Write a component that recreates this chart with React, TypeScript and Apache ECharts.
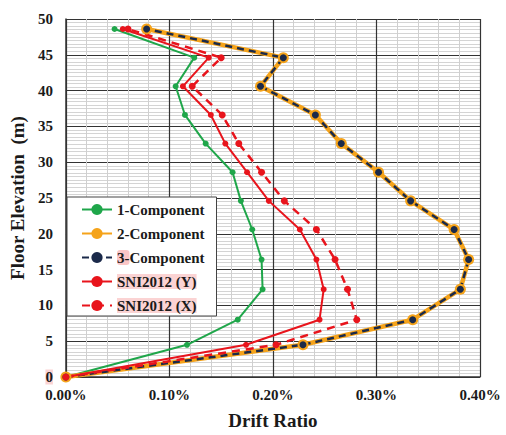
import React, { useEffect, useRef } from "react";
import * as echarts from "echarts";

// Floor elevations (m)
const elevations = [0, 4.5, 8, 12.25, 16.4, 20.6, 24.6, 28.6, 32.6, 36.6, 40.6, 44.6, 48.6];
// Drift ratios (%)
const comp1 = [0, 0.117, 0.166, 0.19, 0.189, 0.18, 0.169, 0.161, 0.135, 0.115, 0.106, 0.124, 0.047];
const comp2 = [0, 0.229, 0.335, 0.381, 0.389, 0.375, 0.333, 0.302, 0.266, 0.241, 0.188, 0.21, 0.078];
const comp3 = [0, 0.229, 0.335, 0.381, 0.389, 0.375, 0.333, 0.302, 0.266, 0.241, 0.188, 0.21, 0.078];
const sniY = [0, 0.174, 0.245, 0.249, 0.242, 0.226, 0.196, 0.175, 0.154, 0.14, 0.113, 0.138, 0.055];
const sniX = [0, 0.203, 0.281, 0.272, 0.26, 0.242, 0.211, 0.189, 0.167, 0.151, 0.122, 0.15, 0.06];
const seriesNames = ["1-Component", "2-Component", "3-Component", "SNI2012 (Y)", "SNI2012 (X)"];

const FONT = "Liberation Serif";

const pairs = (xs: number[]) => xs.map((x, i) => [x, elevations[i]]);

export default function App() {
  const ref = useRef<HTMLDivElement>(null);
  useEffect(() => {
    if (!ref.current) return;
    const chart = echarts.init(ref.current, null, { renderer: "svg" });
    const green = "#1fa64a";
    const orange = "#f5a31a";
    const navy = "#1b2a4a";
    const red = "#e8141c";
    const base = {
      fontFamily: FONT,
      fontWeight: "bold",
      fontSize: 15,
      lineHeight: 17,
      color: "#1a1a1a",
    };
    const pinkRich = {
      p: { ...base, backgroundColor: "#fbd3d3" },
      q: { ...base, backgroundColor: "#fbc6c6", borderRadius: 3 },
      n: { ...base },
    };
    chart.setOption({
      animation: false,
      backgroundColor: "#ffffff",
      grid: { left: 59, right: 26, top: 19, bottom: 58, containLabel: false },
      legend: {
        orient: "vertical",
        left: 67,
        top: 197,
        data: seriesNames,
        selectedMode: false,
        backgroundColor: "#ffffff",
        borderColor: "#444",
        borderWidth: 1,
        padding: [4, 12, 2, 14],
        itemWidth: 30,
        itemHeight: 14,
        itemGap: 7,
        textStyle: { ...base, rich: pinkRich },
        formatter: (name: string) => {
          if (name === "3-Component") return "{q|3-}{n|Component}";
          if (name.startsWith("SNI")) return "{p|" + name + "}";
          return "{n|" + name + "}";
        },
      },
      xAxis: {
        type: "value",
        min: 0,
        max: 0.4,
        interval: 0.1,
        name: "Drift Ratio",
        nameLocation: "middle",
        nameGap: 34,
        nameTextStyle: { fontFamily: FONT, fontWeight: "bold", fontSize: 19, color: "#1a1a1a" },
        axisLine: { show: true, lineStyle: { color: "#333", width: 1.5 } },
        axisTick: { show: false },
        axisLabel: {
          margin: 10,
          fontFamily: FONT,
          fontWeight: "bold",
          fontSize: 15,
          color: "#1a1a1a",
          formatter: (v: number) => v.toFixed(2) + "%",
        },
        splitLine: { show: true, lineStyle: { color: "#333", width: 1.2 } },
        minorTick: { show: false, splitNumber: 5 },
        minorSplitLine: { show: true, lineStyle: { color: "#cfcfcf", width: 1 } },
      },
      yAxis: {
        type: "value",
        min: 0,
        max: 50,
        interval: 5,
        name: "Floor Elevation  (m)",
        nameLocation: "middle",
        nameGap: 30,
        nameTextStyle: { fontFamily: FONT, fontWeight: "bold", fontSize: 19, color: "#1a1a1a" },
        axisLine: { show: true, lineStyle: { color: "#333", width: 1.5 } },
        axisTick: { show: false },
        axisLabel: {
          margin: 13,
          fontFamily: FONT,
          fontWeight: "bold",
          fontSize: 15,
          color: "#1a1a1a",
          formatter: (v: number) => (v === 0 ? "{p|0}" : String(v)),
          rich: pinkRich,
        },
        splitLine: { show: true, lineStyle: { color: "#333", width: 1.2 } },
        minorTick: { show: false, splitNumber: 10 },
        minorSplitLine: { show: true, lineStyle: { color: "#d4d4d4", width: 1 } },
      },
      series: [
        {
          name: seriesNames[0],
          type: "line",
          data: pairs(comp1),
          color: green,
          symbol: "circle",
          symbolSize: 6,
          lineStyle: { color: green, width: 2 },
          itemStyle: { color: green },
        },
        {
          name: seriesNames[1],
          type: "line",
          data: pairs(comp2),
          color: orange,
          symbol: "circle",
          symbolSize: 11,
          lineStyle: { color: orange, width: 4.5 },
          itemStyle: { color: orange },
        },
        {
          name: seriesNames[2],
          type: "line",
          data: pairs(comp3),
          color: navy,
          symbol: "circle",
          symbolSize: 7,
          lineStyle: { color: navy, width: 2.5, type: [7, 5] },
          itemStyle: { color: navy },
        },
        {
          name: seriesNames[3],
          type: "line",
          data: pairs(sniY),
          color: red,
          symbol: "circle",
          symbolSize: 6,
          lineStyle: { color: red, width: 2 },
          itemStyle: { color: red },
        },
        {
          name: seriesNames[4],
          type: "line",
          data: pairs(sniX),
          color: red,
          symbol: "circle",
          symbolSize: 7,
          lineStyle: { color: red, width: 2.5, type: [8, 6] },
          itemStyle: { color: red },
        },
      ],
    });
    return () => chart.dispose();
  }, []);
  return (
    <div
      ref={ref}
      style={{ position: "absolute", left: 0, top: 0, width: 506, height: 435, background: "#fff" }}
    />
  );
}
